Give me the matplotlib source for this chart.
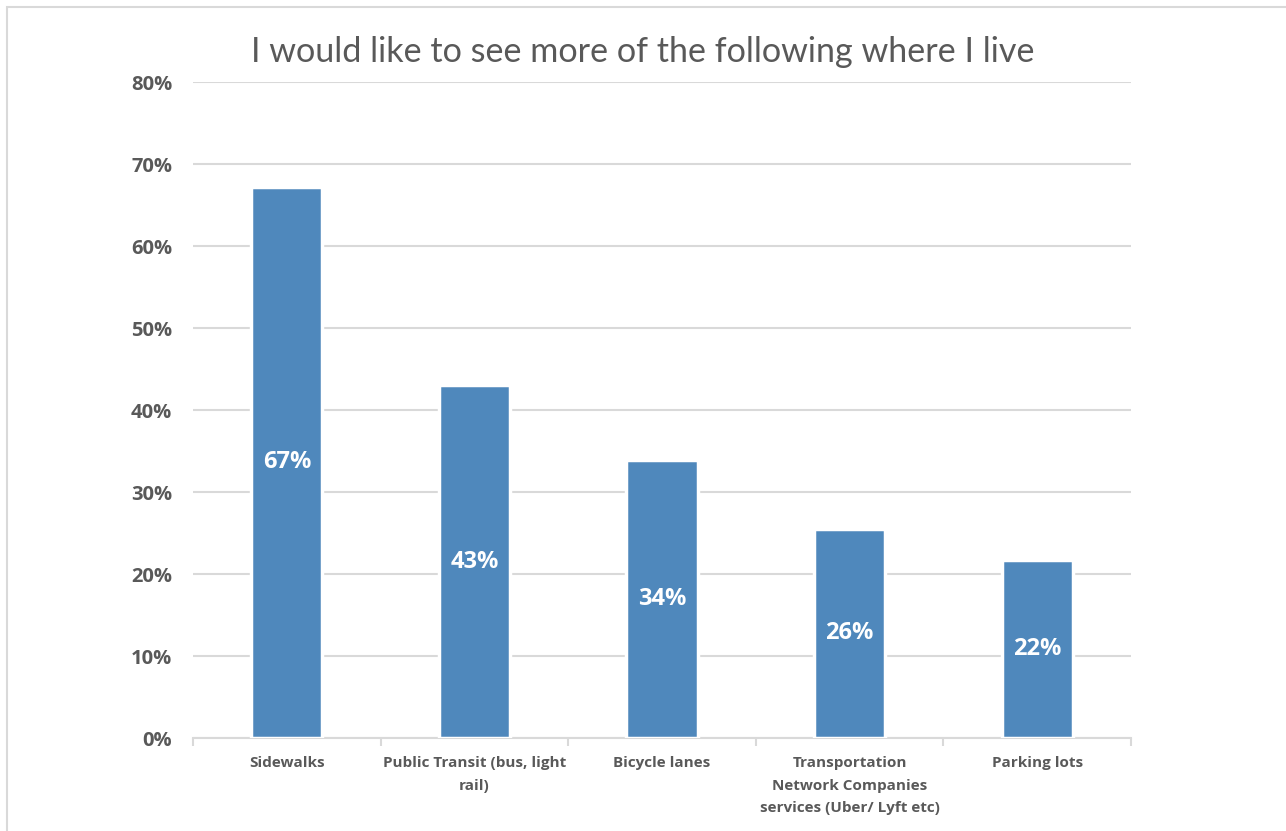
import matplotlib
matplotlib.use('Agg')
import matplotlib.pyplot as plt
from matplotlib.patches import Rectangle
import numpy as np

categories = [
    'Sidewalks',
    'Public Transit (bus, light\nrail)',
    'Bicycle lanes',
    'Transportation\nNetwork Companies\nservices (Uber/ Lyft etc)',
    'Parking lots',
]
shares = [67.2, 43.0, 33.9, 25.5, 21.7]
y_ticks = [0, 10, 20, 30, 40, 50, 60, 70, 80]

bar_color = '#4F88BC'
grid_color = '#D9D9D9'
text_color = '#595959'
bold_font = ['Open Sans', 'DejaVu Sans']

plt.rcParams['font.family'] = ['Lato', 'DejaVu Sans']

fig = plt.figure(figsize=(12.86, 8.31), dpi=100)
ax = fig.add_axes([0.1501, 0.1119, 0.7294, 0.7894])

x = np.arange(len(categories))
bars = ax.bar(x, shares, width=0.38, color=bar_color, edgecolor='white',
              linewidth=2.5, zorder=3)

for rect, val in zip(bars, shares):
    ax.text(rect.get_x() + rect.get_width() / 2, val / 2, f'{round(val)}%',
            ha='center', va='center', color='white', fontsize=17,
            fontweight='bold', family=bold_font, zorder=4)

ax.set_xlim(-0.5, len(categories) - 0.5)
ax.set_ylim(0, 80)
ax.set_yticks(y_ticks)
ax.set_yticklabels([f'{t}%' for t in y_ticks], family=bold_font,
                   fontweight='bold', fontsize=14.5)
ax.yaxis.grid(True, color=grid_color, linewidth=1.5, zorder=0)
ax.tick_params(axis='y', length=0, pad=15, labelcolor=text_color)

# category labels sit between the boundary tick marks
ax.set_xticks(x)
ax.set_xticklabels(categories, fontsize=11, fontweight='bold',
                   family=bold_font, color=text_color, linespacing=1.78,
                   va='top')
ax.tick_params(axis='x', length=0, pad=13)
ax.set_xticks(np.arange(len(categories) + 1) - 0.5, minor=True)
ax.tick_params(axis='x', which='minor', length=6, width=1.5, color=grid_color)

for side in ('top', 'right', 'left'):
    ax.spines[side].set_visible(False)
ax.spines['bottom'].set_color(grid_color)
ax.spines['bottom'].set_linewidth(1.5)

fig.text(0.5, 0.938, 'I would like to see more of the following where I live',
         ha='center', va='center', fontsize=24.6, color=text_color)

# light chart-area frame along the top and left edges
fig.patches.append(Rectangle((7 / 1286, -0.1), 1.2, (831 - 7) / 831 + 0.1,
                             transform=fig.transFigure, fill=False,
                             edgecolor=grid_color, linewidth=1.5))

fig.savefig('out.png', dpi=100)
